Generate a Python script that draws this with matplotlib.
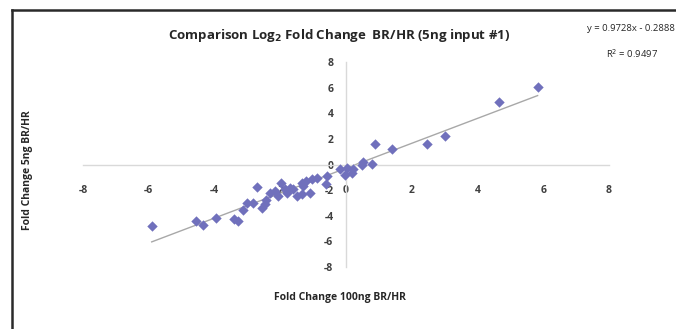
import matplotlib.pyplot as plt
from matplotlib.lines import Line2D

plt.rcParams['font.family'] = ['Open Sans', 'DejaVu Sans']

# log2 fold change values
fc_100ng = [5.83, 4.66, 3.02, 2.45, 1.41, 0.88, 0.78, 0.53, 0.48, 0.22,
            0.17, 0.02, -0.03, -0.17, -0.57, -0.62, -0.89, -1.04, -1.09, -1.22,
            -1.35, -1.30, -1.50, -1.35, -1.60, -1.70, -1.80, -1.98, -1.85, -2.16,
            -2.06, -2.31, -2.43, -2.46, -2.56, -2.72, -2.82, -3.02, -3.12, -3.27,
            -3.42, -3.94, -4.35, -4.56, -5.91]
fc_5ng = [6.05, 4.86, 2.24, 1.57, 1.18, 1.57, 0.02, 0.20, -0.06, -0.37,
          -0.64, -0.25, -0.85, -0.37, -0.90, -1.54, -1.03, -1.15, -2.22, -1.28,
          -1.41, -1.67, -2.45, -2.32, -1.93, -1.80, -2.19, -1.41, -1.93, -2.10,
          -2.45, -2.19, -2.79, -3.10, -3.36, -1.78, -2.97, -2.97, -3.57, -4.40,
          -4.27, -4.20, -4.71, -4.38, -4.79]

slope = 0.9728
intercept = -0.2888
r_squared = 0.9497
ticks = [-8, -6, -4, -2, 0, 2, 4, 6, 8]

fig = plt.figure(figsize=(6.76, 3.29), dpi=100)
ax = fig.add_axes([0.1228, 0.1884, 0.778, 0.623])

ax.scatter(fc_100ng, fc_5ng, marker='D', s=28, color='#7070bc', zorder=3, linewidths=0)

x0, x1 = min(fc_100ng), max(fc_100ng)
ax.plot([x0, x1], [slope * x0 + intercept, slope * x1 + intercept],
        color='#a8a8a8', lw=1, zorder=2)

ax.set_xlim(-8, 8)
ax.set_ylim(-8, 8)
ax.set_xticks(ticks)
ax.set_yticks(ticks)
ax.set_xticklabels([str(t) for t in ticks])
ax.set_yticklabels([str(t) for t in ticks])

ax.spines['left'].set_position('zero')
ax.spines['bottom'].set_position('zero')
ax.spines['right'].set_visible(False)
ax.spines['top'].set_visible(False)
for s in ('left', 'bottom'):
    ax.spines[s].set_color('#d9d9d9')
    ax.spines[s].set_linewidth(1)

ax.tick_params(axis='x', length=0, pad=15, labelsize=7.5, labelcolor='#404040')
ax.tick_params(axis='y', length=0, pad=9, labelsize=7.5, labelcolor='#404040')
for lab in ax.get_xticklabels() + ax.get_yticklabels():
    lab.set_fontweight('bold')

fig.text(0.502, 0.893, 'Comparison Log$_\\mathbf{2}$ Fold Change  BR/HR (5ng input #1)',
         ha='center', va='center', fontsize=9.5, fontweight='bold', color='#262626')
fig.text(0.933, 0.912, 'y = 0.9728x - 0.2888', ha='center', va='center',
         fontsize=6.8, color='#262626')
fig.text(0.935, 0.838, 'R$^2$ = %.4f' % r_squared, ha='center', va='center',
         fontsize=6.8, color='#262626')
fig.text(0.503, 0.097, 'Fold Change 100ng BR/HR', ha='center', va='center',
         fontsize=7.5, fontweight='bold', color='#262626')
fig.text(0.04, 0.483, 'Fold Change 5ng BR/HR', ha='center', va='center',
         rotation=90, fontsize=7.5, fontweight='bold', color='#262626')

# outer frame (top and left edges visible)
fig.add_artist(Line2D([12 / 676, 1], [1 - 10 / 329, 1 - 10 / 329],
                      transform=fig.transFigure, color='#2a2a2a', lw=1.8))
fig.add_artist(Line2D([12 / 676, 12 / 676], [0, 1 - 10 / 329],
                      transform=fig.transFigure, color='#2a2a2a', lw=1.8))

fig.savefig('out.png', dpi=100)
